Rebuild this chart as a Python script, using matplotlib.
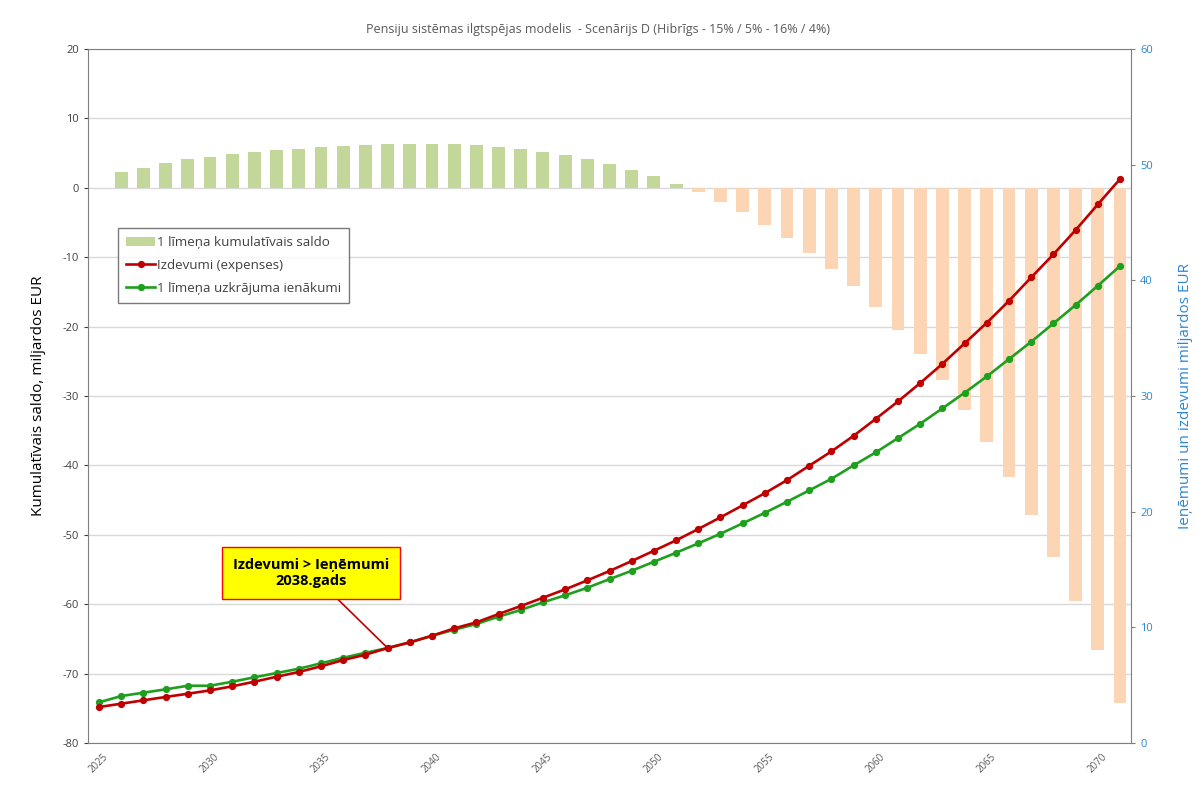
import matplotlib
matplotlib.use("Agg")
import matplotlib.pyplot as plt
import numpy as np

years = list(range(2025, 2072))

# Cumulative balance of pillar 1, billions EUR (left axis)
saldo = [0.0, 2.26, 2.88, 3.51, 4.18, 4.47, 4.81, 5.10, 5.38, 5.63,
         5.87, 6.01, 6.15, 6.25, 6.30, 6.30, 6.25, 6.10, 5.87, 5.53,
         5.14, 4.71, 4.09, 3.37, 2.55, 1.68, 0.58, -0.67, -2.00, -3.46,
         -5.29, -7.20, -9.37, -11.67, -14.22, -17.20, -20.42, -23.88, -27.72, -32.00,
         -36.60, -41.60, -47.10, -53.20, -59.60, -66.60, -74.20]

# Expenses, billions EUR (right axis)
izdevumi = [3.11, 3.40, 3.69, 3.98, 4.26, 4.55, 4.90, 5.30, 5.73, 6.14,
            6.63, 7.17, 7.63, 8.21, 8.70, 9.27, 9.91, 10.43, 11.15, 11.84,
            12.56, 13.28, 14.06, 14.87, 15.73, 16.62, 17.52, 18.50, 19.51, 20.55,
            21.60, 22.73, 23.97, 25.21, 26.56, 28.03, 29.53, 31.12, 32.78, 34.55,
            36.33, 38.23, 40.25, 42.24, 44.34, 46.56, 48.75]

# Pillar 1 contribution income, billions EUR (right axis)
ienakumi = [3.52, 4.06, 4.35, 4.64, 4.95, 4.95, 5.30, 5.68, 6.05, 6.42,
            6.89, 7.37, 7.80, 8.21, 8.70, 9.27, 9.79, 10.29, 10.92, 11.50,
            12.16, 12.77, 13.42, 14.17, 14.89, 15.67, 16.45, 17.26, 18.09, 18.99,
            19.90, 20.86, 21.84, 22.84, 24.00, 25.13, 26.36, 27.60, 28.93, 30.28,
            31.69, 33.19, 34.69, 36.27, 37.86, 39.53, 41.23]

title = "Pensiju sistēmas ilgtspējas modelis  - Scenārijs D (Hibrīgs - 15% / 5% - 16% / 4%)"
label_saldo = "1 līmeņa kumulatīvais saldo"
label_izd = "Izdevumi (expenses)"
label_ien = "1 līmeņa uzkrājuma ienākumi"
note_text = "Izdevumi > Ieņēmumi\n2038.gads"
note_year = 2038

plt.rcParams["font.family"] = ["Open Sans", "DejaVu Sans"]
plt.rcParams["axes.unicode_minus"] = False

fig = plt.figure(figsize=(11.97, 7.89), dpi=100)
ax = fig.add_axes([0.0735, 0.0583, 0.8714, 0.8796])
ax2 = ax.twinx()

x = np.arange(len(years))
pos_col = "#C4D79B"
neg_col = "#FCD5B4"
bar_cols = [pos_col if v >= 0 else neg_col for v in saldo]

ax.set_axisbelow(True)
ax.yaxis.grid(True, color="#D9D9D9", linewidth=1.0)
bars = ax.bar(x, saldo, width=0.58, color=bar_cols, zorder=2)

ax.set_xlim(-0.5, len(years) - 0.5)
ax.set_ylim(-80, 20)
ax.set_yticks(np.arange(-80, 21, 10))
ax.tick_params(axis="y", labelsize=8, colors="#404040", length=3, width=0.8)
ax.set_xticks([i for i, y in enumerate(years) if y % 5 == 0])
ax.set_xticklabels([str(y) for y in years if y % 5 == 0], rotation=45,
                   fontsize=7, color="#595959")
ax.tick_params(axis="x", length=0, pad=6)
for s in ["left", "bottom", "top"]:
    ax.spines[s].set_color("#7F7F7F")
ax.spines["right"].set_visible(False)
ax.set_ylabel("Kumulatīvais saldo, miljardos EUR", fontsize=11, color="#000000",
              labelpad=12)

l1, = ax2.plot(x, izdevumi, color="#C00000", lw=1.9, marker="o", ms=4.2, zorder=5)
l2, = ax2.plot(x, ienakumi, color="#1EA01E", lw=1.9, marker="o", ms=4.2, zorder=4)
ax2.set_ylim(0, 60)
ax2.set_yticks(np.arange(0, 61, 10))
ax2.tick_params(axis="y", labelsize=8, colors="#7F7F7F", labelcolor="#2E86D1",
                length=3, width=0.8)
for s in ["left", "bottom", "top"]:
    ax2.spines[s].set_visible(False)
ax2.spines["right"].set_color("#7F7F7F")
ax2.set_ylabel("Ieņēmumi un izdevumi miljardos EUR", fontsize=11, color="#2E86D1",
               labelpad=18)

fig.text(0.5, 0.962, title, ha="center", va="center", fontsize=9, color="#595959")

leg = ax2.legend([bars.patches[1], l1, l2], [label_saldo, label_izd, label_ien],
                 loc="upper left", bbox_to_anchor=(0.0288, 0.742), borderaxespad=0,
                 fontsize=9.6, frameon=True, fancybox=False, edgecolor="#595959",
                 handlelength=2.2, handletextpad=0.1, borderpad=0.6,
                 labelspacing=0.75, labelcolor="#404040")
leg.get_frame().set_linewidth(1.0)

ni = years.index(note_year)
ax2.annotate(note_text, xy=(ni, izdevumi[ni]), xytext=(9.55, 14.7),
             ha="center", va="center", fontsize=10.5, fontweight="bold",
             color="#000000",
             bbox=dict(boxstyle="square,pad=0.75", fc="#FFFF00", ec="#FF0000", lw=1.0),
             arrowprops=dict(arrowstyle="-", color="#C00000", lw=1.2,
                             shrinkA=0, shrinkB=0),
             zorder=6)

fig.savefig("out.png", dpi=100)
